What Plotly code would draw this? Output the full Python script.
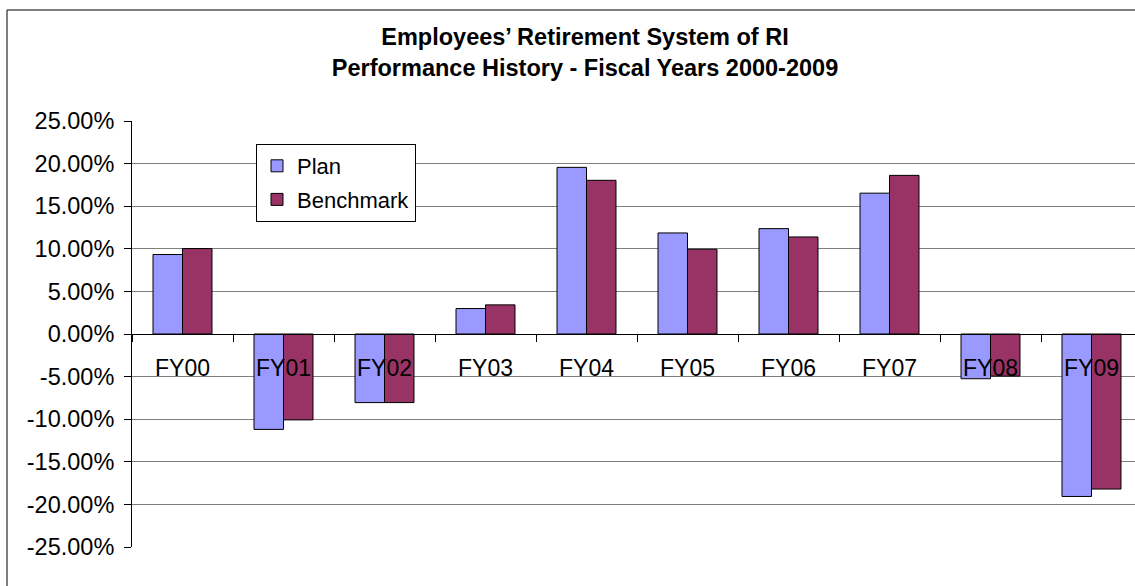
import plotly.graph_objects as go

CATEGORIES = ["FY00", "FY01", "FY02", "FY03", "FY04", "FY05", "FY06", "FY07", "FY08", "FY09"]
PLAN = [9.33, -11.20, -8.05, 2.99, 19.56, 11.86, 12.37, 16.53, -5.25, -19.07]
BENCHMARK = [10.03, -10.08, -8.05, 3.42, 18.04, 9.95, 11.39, 18.62, -4.94, -18.20]
Y_TICKS = [-25, -20, -15, -10, -5, 0, 5, 10, 15, 20, 25]
Y_TICK_LABELS = ["-25.00%", "-20.00%", "-15.00%", "-10.00%", "-5.00%", "0.00%",
                 "5.00%", "10.00%", "15.00%", "20.00%", "25.00%"]
TITLE = "Employees\u2019 Retirement System of RI<br>Performance History - Fiscal Years 2000-2009"

FONT = "Liberation Sans, Arial, Helvetica, sans-serif"

fig = go.Figure()
fig.add_trace(go.Bar(
    x=CATEGORIES, y=PLAN, name="Plan", legendgroup="plan",
    marker=dict(color="#9999FF", line=dict(color="#000000", width=1)),
))
fig.add_trace(go.Bar(
    x=CATEGORIES, y=BENCHMARK, name="Benchmark", legendgroup="bench",
    marker=dict(color="#993366", line=dict(color="#000000", width=1)),
))

W, H = 1135, 586
ML, MR, MT, MB = 132, 0, 121, 39
PW = W - ML - MR
PH = H - MT - MB

fig.update_layout(
    width=W, height=H,
    margin=dict(l=ML, r=MR, t=MT, b=MB, pad=0),
    paper_bgcolor="white", plot_bgcolor="white",
    font=dict(family=FONT, color="#000000"),
    barmode="group", bargap=0.416, bargroupgap=0,
    title=dict(
        text=TITLE, x=585 / W, xref="container", xanchor="center",
        y=1 - 45 / H, yref="container", yanchor="middle",
        font=dict(family=FONT, size=23.5, color="#000000", weight="bold"),
    ),
    showlegend=True,
    legend=dict(
        x=(256 - ML) / PW, y=(H - MB - 144) / PH, xanchor="left", yanchor="top",
        bgcolor="white", bordercolor="#000000", borderwidth=1,
        font=dict(family=FONT, size=22, color="#000000"),
        tracegroupgap=2, itemwidth=30,
    ),
    xaxis=dict(
        type="category",
        range=[-0.5, -0.5 + PW / 101.0],
        anchor="free", position=0.5,
        showline=True, linecolor="#000000", linewidth=1,
        ticks="outside", tickson="boundaries", ticklen=7, tickcolor="#000000",
        showgrid=False, zeroline=False,
        tickfont=dict(family=FONT, size=23, color="#000000"),
        ticklabelstandoff=13,
    ),
    yaxis=dict(
        range=[-25, 25],
        tickvals=Y_TICKS, ticktext=Y_TICK_LABELS,
        showline=True, linecolor="#000000", linewidth=1,
        ticks="outside", ticklen=7, tickcolor="#000000",
        showgrid=True, gridcolor="#808080", gridwidth=1,
        zeroline=True, zerolinecolor="#000000", zerolinewidth=1,
        tickfont=dict(family=FONT, size=23.5, color="#000000"),
        ticklabelstandoff=5,
    ),
)

# outer chart border (left/top visible in the cropped reference)
fig.add_shape(
    type="rect", xref="paper", yref="paper",
    x0=(7 - ML) / PW, x1=1.1, y0=-0.3, y1=(H - MB - 10) / PH,
    line=dict(color="#000000", width=1), fillcolor="rgba(0,0,0,0)", layer="below",
)

fig.write_html(
    "out.html",
    config={"displayModeBar": False},
    post_script="document.body.style.margin='0';document.body.style.overflow='hidden';",
)
